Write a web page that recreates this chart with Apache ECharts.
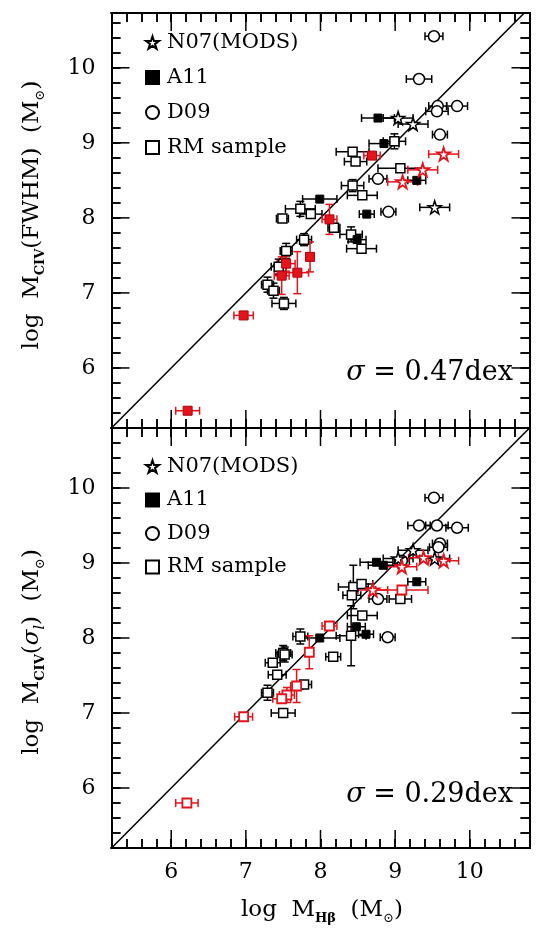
<!DOCTYPE html>
<html>
<head>
<meta charset="utf-8">
<script src="https://cdn.jsdelivr.net/npm/echarts@6.0.0/dist/echarts.min.js"></script>
<style>
  html, body { margin: 0; padding: 0; background: #fff; }
  #wrap { position: relative; width: 539px; height: 930px; }
  #chart, #frame { position: absolute; left: 0; top: 0; width: 539px; height: 930px; }
  #frame { pointer-events: none; }
</style>
</head>
<body>
<div id="wrap">
  <div id="chart"></div>
  <div id="frame"></div>
</div>
<script>
// each point: [log M_Hbeta, log M_CIV, x error, y error]
// upper panel: M_CIV from FWHM
const fwhmN07 = [[9.04, 9.33, 0.20, 0], [9.24, 9.25, 0.20, 0], [9.53, 8.14, 0.20, 0]];
const fwhmN07Red = [[9.65, 8.85, 0.20, 0], [9.37, 8.64, 0.20, 0], [9.10, 8.48, 0.20, 0]];
const fwhmA11 = [[8.77, 9.33, 0.22, 0], [8.85, 8.99, 0.20, 0], [9.29, 8.50, 0.12, 0],
  [7.99, 8.25, 0.23, 0], [8.62, 8.05, 0.10, 0], [8.49, 7.71, 0.12, 0]];
const fwhmD09 = [[9.52, 10.42, 0.12, 0], [9.32, 9.85, 0.17, 0], [9.57, 9.49, 0.12, 0],
  [9.56, 9.42, 0.15, 0], [9.83, 9.49, 0.14, 0], [9.60, 9.11, 0.10, 0],
  [8.77, 8.52, 0.12, 0], [8.91, 8.08, 0.10, 0]];
const fwhmRM = [[8.99, 9.02, 0.15, 0.10], [8.43, 8.88, 0.22, 0], [8.47, 8.75, 0.15, 0],
  [9.07, 8.66, 0.30, 0], [8.43, 8.43, 0.15, 0.08], [8.56, 8.30, 0.20, 0],
  [7.73, 8.12, 0.20, 0.10], [7.87, 8.05, 0.15, 0], [7.49, 7.99, 0.08, 0],
  [8.18, 7.87, 0.08, 0], [8.41, 7.78, 0.15, 0.10], [8.55, 7.59, 0.20, 0],
  [7.78, 7.71, 0.10, 0.08], [7.54, 7.56, 0.08, 0.10], [7.44, 7.35, 0.10, 0.10],
  [7.29, 7.11, 0.08, 0.10], [7.37, 7.03, 0.08, 0.10], [7.51, 6.86, 0.16, 0.08]];
const fwhmRed = [[8.69, 8.83, 0.11, 0], [8.12, 7.98, 0.10, 0.20], [7.86, 7.48, 0.05, 0.20],
  [7.54, 7.39, 0.12, 0.10], [7.69, 7.27, 0.15, 0.28], [7.48, 7.23, 0.10, 0.25],
  [6.97, 6.70, 0.13, 0], [6.22, 5.43, 0.16, 0]];

// lower panel: M_CIV from sigma_l
const sigN07 = [[9.24, 9.17, 0.20, 0], [9.53, 9.06, 0.20, 0], [9.04, 9.06, 0.20, 0]];
const sigN07Red = [[9.38, 9.07, 0.20, 0], [9.65, 9.03, 0.20, 0], [9.09, 8.95, 0.20, 0],
  [8.70, 8.64, 0.20, 0]];
const sigA11 = [[8.75, 9.01, 0.22, 0], [8.84, 8.97, 0.20, 0], [9.29, 8.75, 0.12, 0],
  [8.48, 8.15, 0.12, 0], [8.61, 8.05, 0.10, 0], [7.99, 8.00, 0.27, 0]];
const sigD09 = [[9.52, 9.87, 0.12, 0], [9.32, 9.50, 0.15, 0], [9.56, 9.50, 0.15, 0],
  [9.83, 9.47, 0.15, 0], [9.60, 9.26, 0.10, 0], [9.58, 9.21, 0.12, 0],
  [9.09, 9.03, 0.10, 0], [8.77, 8.52, 0.12, 0], [8.90, 8.01, 0.10, 0]];
const sigRM = [[8.44, 8.68, 0.20, 0.29], [8.55, 8.72, 0.15, 0], [8.42, 8.57, 0.12, 0.05],
  [9.07, 8.52, 0.15, 0], [8.56, 8.30, 0.20, 0], [8.41, 8.03, 0.20, 0.40],
  [7.73, 8.02, 0.10, 0.10], [8.17, 7.75, 0.10, 0], [7.50, 7.80, 0.10, 0.10],
  [7.52, 7.78, 0.10, 0.10], [7.36, 7.67, 0.10, 0], [7.42, 7.51, 0.12, 0],
  [7.78, 7.38, 0.10, 0], [7.29, 7.27, 0.08, 0.10], [7.50, 7.00, 0.16, 0]];
const sigRed = [[8.12, 8.16, 0.10, 0.05], [9.09, 8.64, 0.35, 0.03], [7.85, 7.81, 0.05, 0.22],
  [7.68, 7.36, 0.08, 0.22], [7.55, 7.24, 0.10, 0.10], [7.48, 7.19, 0.12, 0.05],
  [6.97, 6.95, 0.12, 0], [6.21, 5.80, 0.15, 0]];

const legendNames = ['N07(MODS)', 'A11', 'D09', 'RM sample'];
const majorTicks = [6, 7, 8, 9, 10];
const xRange = [5.2, 10.8];
const fwhmYRange = [5.2, 10.73];
const sigYRange = [5.2, 10.8];
const diagonal = [5.2, 10.8];
const scatterLabels = ['0.47dex', '0.29dex'];

const FONT = 'DejaVu Serif';
const RED = '#e3141c';
const STAR = 'path://M50,2 L61,36 L97,36 L68,57 L79,92 L50,71 L21,92 L32,57 L3,36 L39,36 Z';

const grids = [
  { left: 111.5, right: 9.5, top: 13, height: 415 },
  { left: 111.5, right: 9.5, top: 428, height: 420 }
];

// frame axes carry labels, the 0.2-step axes carry the short ticks
function makeAxis(grid, pos, range, major, showLabel) {
  let a = {
    type: 'value', gridIndex: grid, position: pos, min: range[0], max: range[1],
    splitLine: { show: false },
    axisLine: { show: true, onZero: false, lineStyle: { color: '#000', width: 2 } },
    axisTick: { show: !major, inside: true, length: 9, lineStyle: { color: '#000', width: 1.5 } },
    axisLabel: { show: major && showLabel, color: '#000', fontFamily: FONT, fontSize: 22, margin: (pos === 'left') ? 16 : 13 }
  };
  if (major) a.axisLabel.customValues = majorTicks; else a.interval = 0.2;
  return a;
}
function axesFor(grid, dim, range, labelled) {
  let p = dim === 'x' ? ['bottom', 'top'] : ['left', 'right'];
  return [makeAxis(grid, p[0], range, true, labelled), makeAxis(grid, p[0], range, false, false),
    makeAxis(grid, p[1], range, true, false), makeAxis(grid, p[1], range, false, false)];
}

function seg(x1, y1, x2, y2, color) {
  return { type: 'line', shape: { x1: x1, y1: y1, x2: x2, y2: y2 }, style: { stroke: color, lineWidth: 1.5 } };
}

// long ticks at the integers, on all four sides of a panel
function majorTickSeries(grid) {
  return {
    type: 'custom', xAxisIndex: grid * 4, yAxisIndex: grid * 4,
    data: majorTicks.map(v => [v, v]), encode: { x: 0, y: 1 }, z: 4, silent: true, clip: false,
    renderItem: function (params, api) {
      let cs = params.coordSys;
      let p = api.coord([api.value(0), api.value(1)]);
      let L = 18;
      let b = cs.y + cs.height, r = cs.x + cs.width;
      return { type: 'group', children: [
        seg(p[0], b, p[0], b - L, '#000'), seg(p[0], cs.y, p[0], cs.y + L, '#000'),
        seg(cs.x, p[1], cs.x + L, p[1], '#000'), seg(r, p[1], r - L, p[1], '#000')
      ] };
    }
  };
}

function errSeries(data, grid, color) {
  return {
    type: 'custom', xAxisIndex: grid * 4, yAxisIndex: grid * 4, data: data,
    encode: { x: 0, y: 1 }, z: 2, silent: true,
    renderItem: function (params, api) {
      let x = api.value(0), y = api.value(1), xe = api.value(2), ye = api.value(3);
      let c = api.coord([x, y]);
      let cap = 4;
      let kids = [];
      if (xe > 0) {
        let l = api.coord([x - xe, y])[0], r = api.coord([x + xe, y])[0];
        kids.push(seg(l, c[1], r, c[1], color), seg(l, c[1] - cap, l, c[1] + cap, color), seg(r, c[1] - cap, r, c[1] + cap, color));
      }
      if (ye > 0) {
        let t = api.coord([x, y + ye])[1], b = api.coord([x, y - ye])[1];
        kids.push(seg(c[0], t, c[0], b, color), seg(c[0] - cap, t, c[0] + cap, t, color), seg(c[0] - cap, b, c[0] + cap, b, color));
      }
      return { type: 'group', children: kids };
    }
  };
}

function markSeries(name, data, grid, symbol, size, style) {
  return {
    type: 'scatter', name: name, xAxisIndex: grid * 4, yAxisIndex: grid * 4,
    data: data.map(d => [d[0], d[1]]), symbol: symbol, symbolSize: size,
    itemStyle: Object.assign({}, style), z: 3, emphasis: { disabled: true }
  };
}

const openBlack = { color: '#fff', borderColor: '#000', borderWidth: 1.5, opacity: 1 };
const filledBlack = { color: '#000', borderColor: '#000', borderWidth: 1, opacity: 1 };
const openRed = { color: '#fff', borderColor: RED, borderWidth: 1.8, opacity: 1 };
const filledRed = { color: RED, borderColor: '#b5000a', borderWidth: 1, opacity: 1 };

function panel(grid, n07, n07Red, a11, d09, rm, red, redFilled) {
  let s = [{
    type: 'line', xAxisIndex: grid * 4, yAxisIndex: grid * 4,
    data: diagonal.map(v => [v, v]), symbol: 'none', clip: true, silent: true, z: 1,
    lineStyle: { color: '#000', width: 1.5 }
  }];
  s.push(errSeries(rm, grid, '#000'), errSeries(d09, grid, '#000'), errSeries(a11, grid, '#000'),
    errSeries(n07, grid, '#000'), errSeries(red, grid, RED), errSeries(n07Red, grid, RED));
  s.push(markSeries('RM sample', rm, grid, 'rect', 9, openBlack));
  s.push(markSeries('D09', d09, grid, 'circle', 11, openBlack));
  s.push(markSeries('A11', a11, grid, 'rect', 8, filledBlack));
  s.push(markSeries('N07(MODS)', n07, grid, STAR, 13, openBlack));
  s.push(markSeries('red', red, grid, 'rect', 9, redFilled ? filledRed : openRed));
  s.push(markSeries('N07 red', n07Red, grid, STAR, 13, openRed));
  return s;
}

function legendFor(top, gap) {
  return {
    data: legendNames, orient: 'vertical', left: 140, top: top, itemWidth: 13, itemHeight: 13,
    itemGap: gap, selectedMode: false,
    textStyle: { color: '#000', fontFamily: FONT, fontSize: 21, lineHeight: 20, padding: [0, 0, 0, 3] }
  };
}

function titleRich() {
  return {
    n: { fontFamily: FONT, fontSize: 23, verticalAlign: 'middle', lineHeight: 30, fill: '#000' },
    s: { fontFamily: FONT, fontSize: 13, fontWeight: 'bold', verticalAlign: 'bottom', lineHeight: 13, fill: '#000' },
    o: { fontFamily: FONT, fontSize: 13, verticalAlign: 'bottom', lineHeight: 14, fill: '#000' },
    g: { fontFamily: FONT, fontSize: 23, fontStyle: 'italic', verticalAlign: 'middle', lineHeight: 30, fill: '#000' },
    l: { fontFamily: FONT, fontSize: 14, fontStyle: 'italic', verticalAlign: 'bottom', lineHeight: 14, fill: '#000' }
  };
}
function bigRich() {
  return {
    g: { fontFamily: FONT, fontSize: 27, fontStyle: 'italic', fill: '#000' },
    n: { fontFamily: FONT, fontSize: 27, fill: '#000' }
  };
}

// data, labels, legend and titles
let chart = echarts.init(document.getElementById('chart'));
chart.setOption({
  animation: false,
  backgroundColor: '#fff',
  grid: grids,
  xAxis: [].concat(axesFor(0, 'x', xRange, false), axesFor(1, 'x', xRange, true)),
  yAxis: [].concat(axesFor(0, 'y', fwhmYRange, true), axesFor(1, 'y', sigYRange, true)),
  legend: [legendFor(27, 14), legendFor(451, 12.5)],
  graphic: [
    { type: 'text', x: 32, y: 215, rotation: Math.PI / 2,
      style: { text: '{n|log  M}{s|CIV}{n|(FWHM)  (M}{o|⊙}{n|)}', rich: titleRich(), align: 'center', verticalAlign: 'middle' } },
    { type: 'text', x: 32, y: 652, rotation: Math.PI / 2,
      style: { text: '{n|log  M}{s|CIV}{n|(}{g|σ}{l|l}{n|)  (M}{o|⊙}{n|)}', rich: titleRich(), align: 'center', verticalAlign: 'middle' } },
    { type: 'text', x: 322, y: 910,
      style: { text: '{n|log  M}{s|Hβ}{n|  (M}{o|⊙}{n|)}', rich: titleRich(), align: 'center', verticalAlign: 'middle' } },
    { type: 'text', x: 513, y: 373,
      style: { text: '{g|σ}{n| = ' + scatterLabels[0] + '}', rich: bigRich(), align: 'right', verticalAlign: 'middle' } },
    { type: 'text', x: 513, y: 795,
      style: { text: '{g|σ}{n| = ' + scatterLabels[1] + '}', rich: bigRich(), align: 'right', verticalAlign: 'middle' } }
  ],
  series: [].concat(
    panel(0, fwhmN07, fwhmN07Red, fwhmA11, fwhmD09, fwhmRM, fwhmRed, true),
    panel(1, sigN07, sigN07Red, sigA11, sigD09, sigRM, sigRed, false)
  )
});

// frame with minor and major ticks, drawn on a transparent layer above
let frame = echarts.init(document.getElementById('frame'));
frame.setOption({
  animation: false,
  grid: grids,
  xAxis: [].concat(axesFor(0, 'x', xRange, false), axesFor(1, 'x', xRange, false)),
  yAxis: [].concat(axesFor(0, 'y', fwhmYRange, false), axesFor(1, 'y', sigYRange, false)),
  series: [majorTickSeries(0), majorTickSeries(1)]
});
</script>
</body>
</html>
